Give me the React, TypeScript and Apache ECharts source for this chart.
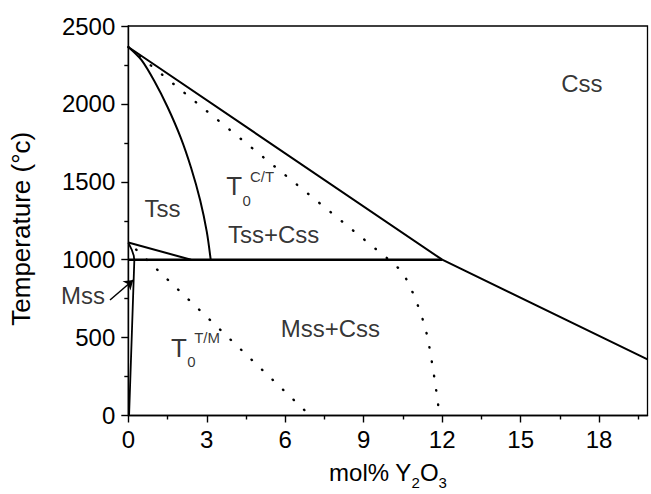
import React, { useEffect, useRef } from 'react';
import * as echarts from 'echarts';

const FONT = '"Liberation Sans", Arial, Helvetica, sans-serif';

// axes
const X_MIN = 0;
const X_MAX = 19.85;
const Y_MIN = 0;
const Y_MAX = 2500;
const Y_INTERVAL = 500;
const xMajorTicks = [0, 3, 6, 9, 12, 15, 18];
const xMinorTicks = [1.5, 4.5, 7.5, 10.5, 13.5, 16.5, 19.5];

// phase boundaries (mol% Y2O3, °C)
const cubicBoundary = [[0, 2365], [12, 1000], [19.85, 360]];
const tssCubicBoundary = [
  [0, 2365], [0.5, 2282], [1.0, 2145], [1.5, 1980], [2.0, 1785],
  [2.4, 1590], [2.75, 1380], [3.0, 1180], [3.15, 1000],
];
const tssLowerBoundary = [[0, 1110], [2.4, 1000]];
const eutectoidLine = [[0, 1000], [12, 1000]];
const mssBoundary = [[0, 1110], [0.13, 1065], [0.21, 1025], [0.23, 995], [0.03, 0]];
const t0CT = [
  [0, 2365], [10, 995], [10.5, 920], [10.9, 780], [11.2, 650],
  [11.45, 500], [11.65, 300], [11.8, 130], [11.9, 0],
];
const t0TM = [[0.3, 1065], [6.95, 0]];
const mssArrow = [[-0.7, 741], [0.19, 870]];

// region labels: text, anchor (left, vertical middle) in data units, font size
const labelTexts = ['Css', 'Tss', 'T', '0', 'C/T', 'Tss+Css', 'Mss+Css', 'T', '0', 'T/M', 'Mss'];
const labelX = [16.53, 0.6, 3.73, 4.35, 4.63, 3.79, 5.81, 1.61, 2.23, 2.5, -2.59];
const labelY = [2131, 1327, 1474, 1383, 1533, 1164, 560, 433, 345, 500, 770];
const labelSizes = [24, 24, 26, 15, 15, 24, 24, 26, 15, 15, 24];

const solid = (data: number[][], width = 2, smooth: number | boolean = false) => ({
  type: 'line',
  data,
  symbol: 'none',
  showSymbol: false,
  silent: true,
  smooth,
  lineStyle: { color: '#000', width, type: 'solid' },
  z: 3,
});

const dotted = (data: number[][]) => ({
  type: 'line',
  data,
  symbol: 'none',
  showSymbol: false,
  silent: true,
  lineStyle: { color: '#000', width: 2.4, type: [0.5, 14], cap: 'round' },
  z: 3,
});

export default function App() {
  const ref = useRef<HTMLDivElement>(null);

  useEffect(() => {
    if (!ref.current) return;
    const chart = echarts.init(ref.current, null, { renderer: 'svg' });
    const axisLineStyle = { color: '#000', width: 1.4 };
    const option: any = {
      animation: false,
      backgroundColor: '#fff',
      textStyle: { fontFamily: FONT, color: '#000' },
      grid: {
        left: 128.3,
        right: 3.5,
        top: 26,
        bottom: 78.5,
        show: true,
        borderColor: '#000',
        borderWidth: 1.3,
        backgroundColor: 'transparent',
        containLabel: false,
        outerBoundsMode: 'none',
      },
      xAxis: [
        {
          type: 'value',
          min: X_MIN,
          max: X_MAX,
          position: 'bottom',
          name: '{a|mol% Y}{b|2}{a|O}{b|3}',
          nameLocation: 'middle',
          nameGap: 45,
          nameTextStyle: {
            color: '#000',
            fontFamily: FONT,
            rich: {
              a: { fontSize: 24, lineHeight: 24, verticalAlign: 'top', fontFamily: FONT, color: '#000' },
              b: { fontSize: 15, lineHeight: 15, padding: [14, 0, 0, 0], verticalAlign: 'top', fontFamily: FONT, color: '#000' },
            },
          },
          axisLine: { show: true, onZero: false, lineStyle: axisLineStyle },
          axisTick: { show: true, inside: false, length: 7, customValues: xMajorTicks, lineStyle: axisLineStyle },
          axisLabel: {
            show: true,
            customValues: xMajorTicks,
            margin: 12,
            fontSize: 24,
            color: '#000',
            fontFamily: FONT,
            formatter: (v: number) => String(v),
          },
          splitLine: { show: false },
          minorTick: { show: false },
        },
        {
          type: 'value',
          min: X_MIN,
          max: X_MAX,
          position: 'bottom',
          axisLine: { show: false },
          axisTick: { show: true, inside: false, length: 4, customValues: xMinorTicks, lineStyle: axisLineStyle },
          axisLabel: { show: false },
          splitLine: { show: false },
        },
      ],
      yAxis: {
        type: 'value',
        min: Y_MIN,
        max: Y_MAX,
        interval: Y_INTERVAL,
        name: 'Temperature (°c)',
        nameLocation: 'middle',
        nameGap: 94,
        nameTextStyle: { fontSize: 26, color: '#000', fontFamily: FONT, padding: [0, 16, 0, 0] },
        axisLine: { show: true, onZero: false, lineStyle: axisLineStyle },
        axisTick: { show: true, inside: false, length: 7, lineStyle: axisLineStyle },
        minorTick: { show: true, splitNumber: 2, length: 4, lineStyle: axisLineStyle },
        axisLabel: {
          show: true,
          margin: 13,
          fontSize: 24,
          color: '#000',
          fontFamily: FONT,
          formatter: (v: number) => String(v),
        },
        splitLine: { show: false },
        minorSplitLine: { show: false },
      },
      series: [
        solid(cubicBoundary),
        solid(tssCubicBoundary, 2, 0.3),
        solid(tssLowerBoundary),
        solid(eutectoidLine, 2.4),
        solid(mssBoundary, 1.8),
        dotted(t0CT),
        dotted(t0TM),
        {
          type: 'lines',
          coordinateSystem: 'cartesian2d',
          xAxisIndex: 0,
          yAxisIndex: 0,
          clip: false,
          silent: true,
          symbol: ['none', 'arrow'],
          symbolSize: 9,
          lineStyle: { color: '#000', width: 1.5, opacity: 1, curveness: 0 },
          data: [{ coords: mssArrow }],
          z: 4,
        },
        {
          type: 'scatter',
          clip: false,
          silent: true,
          symbolSize: 1,
          itemStyle: { color: 'rgba(0,0,0,0)' },
          data: labelTexts.map((t, i) => ({
            value: [labelX[i], labelY[i]],
            label: {
              show: true,
              formatter: t,
              position: 'right',
              distance: 0,
              align: 'left',
              verticalAlign: 'middle',
              fontSize: labelSizes[i],
              fontFamily: FONT,
              color: '#000',
            },
          })),
          z: 5,
        },
      ],
    };
    chart.setOption(option);
    return () => chart.dispose();
  }, []);

  return (
    <div
      ref={ref}
      style={{ position: 'fixed', left: 0, top: 0, width: 651, height: 494, background: '#fff' }}
    />
  );
}
